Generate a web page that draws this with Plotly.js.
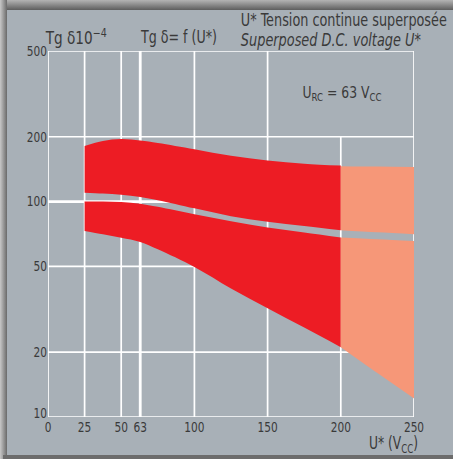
<!DOCTYPE html>
<html>
<head>
<meta charset="utf-8">
<script src="https://cdn.plot.ly/plotly-3.0.1.min.js"></script>
<style>
  html, body { margin: 0; padding: 0; background: #d8d8d8; }
  #wrap { position: absolute; left: 0; top: 0; width: 453px; height: 459px; background: #8c8c8c; overflow: hidden; }
  #topS { position: absolute; left: 0; top: 0; width: 453px; height: 10px; background: linear-gradient(to bottom, #b4b4b4, #5e5e5e); }
  #leftS { position: absolute; left: 0; top: 0; width: 7px; height: 459px; background: linear-gradient(to right, #c8c8c8, #6a6a6a); }
  #botS { position: absolute; left: 3px; top: 455px; width: 450px; height: 4px; background: #6c6c6c; }
  #panel { position: absolute; left: 7px; top: 10px; width: 446px; height: 445px; background: #a8b0b7; }
  #chart { position: absolute; left: 0; top: 0; width: 453px; height: 459px; }
</style>
</head>
<body>
<div id="wrap"><div id="topS"></div><div id="leftS"></div><div id="botS"></div><div id="panel"></div><div id="chart"></div></div>
<script>
// ---- data ----
const xRed = [25, 37.5, 50, 63, 75, 100, 125, 150, 175, 200];
const band1Top = [181, 191, 195, 192, 187, 175, 163, 155, 150, 147];
const band1Bot = [110, 109, 107.5, 105, 101.5, 93, 85.5, 80.5, 77, 73.6];
const band2Top = [100, 100, 99.5, 97.8, 94.5, 87.3, 81, 75.7, 71.8, 68.1];
const band2Bot = [73, 70.5, 68, 65, 60, 49.7, 39.5, 32, 26, 21.1];

const xSalmon = [200, 225, 250];
const band1TopS = [146, 145.3, 144.7];
const band1BotS = [73.6, 72, 70.5];
const band2TopS = [68.1, 66.8, 65.6];
const band2BotS = [21.1, 16, 12.2];

const xTicks = [0, 25, 50, 63, 100, 150, 200, 250];
const xTickText = ['0', '25', '50', '63', '100', '150', '200', '250'];
const yTicks = [10, 20, 50, 100, 200, 500];
const yTickText = ['10', '20', '50', '100', '200', '500'];

// ---- styles ----
const RED = '#ed1c24';
const SALMON = '#f69778';
const TXT = '#3a3a3a';
const FONT = '"DejaVu Sans Condensed", "DejaVu Sans", sans-serif';

function band(x, lo, hi, color) {
  return [
    {x: x, y: lo, type: 'scatter', mode: 'lines', line: {width: 0, shape: 'spline', smoothing: 1}, hoverinfo: 'skip', showlegend: false},
    {x: x, y: hi, type: 'scatter', mode: 'lines', line: {width: 0, shape: 'spline', smoothing: 1}, fill: 'tonexty', fillcolor: color, hoverinfo: 'skip', showlegend: false}
  ];
}

const data = [].concat(
  band(xRed, band1Bot, band1Top, RED),
  band(xSalmon, band1BotS, band1TopS, SALMON),
  band(xRed, band2Bot, band2Top, RED),
  band(xSalmon, band2BotS, band2TopS, SALMON)
);

// grid lines as shapes below the fills
const shapes = [];
xTicks.forEach(v => {
  shapes.push({type: 'line', layer: 'below', xref: 'x', yref: 'y', x0: v, x1: v, y0: 10, y1: (v === 200 ? 200 : 500),
               line: {color: 'white', width: (v === 63 ? 2.8 : 1.7)}});
});
yTicks.forEach(v => {
  shapes.push({type: 'line', layer: 'below', xref: 'x', yref: 'y', x0: 0, x1: 250, y0: v, y1: v,
               line: {color: 'white', width: (v === 100 ? 2.8 : 1.7)}});
});

// annotation specs: center x, center y, target width (px)
const annSpecs = [
  {text: 'Tg δ10<sup>−4</sup>', cx: 75.5, cy: 37, w: 61},
  {text: 'Tg δ= f (U*)', cx: 178, cy: 37, w: 76},
  {text: 'U* Tension continue superposée', cx: 344, cy: 20, w: 206},
  {text: '<i>Superposed D.C. voltage U*</i>', cx: 331, cy: 40, w: 180},
  {text: 'U<sub>RC</sub> = 63 V<sub>CC</sub>', cx: 341.5, cy: 93, w: 79, size: 16},
  {text: 'U* (V<sub>CC</sub>)', cx: 393.5, cy: 444, w: 49}
];
const annotations = annSpecs.map(a => ({
  text: a.text, showarrow: false, xref: 'paper', yref: 'paper',
  x: (a.cx - 48) / 366, y: (417 - a.cy) / 366, xanchor: 'center', yanchor: 'middle',
  font: {family: FONT, size: a.size || 17, color: TXT}
}));

const layout = {
  width: 453, height: 459,
  margin: {l: 48, r: 39, t: 51, b: 42},
  paper_bgcolor: 'rgba(0,0,0,0)',
  plot_bgcolor: 'rgba(0,0,0,0)',
  font: {family: FONT, size: 14, color: TXT},
  showlegend: false,
  xaxis: {range: [0, 250], tickvals: xTicks, ticktext: xTickText, showgrid: false, zeroline: false,
          showline: false, ticks: '', tickfont: {family: FONT, size: 14, color: TXT}, fixedrange: true},
  yaxis: {type: 'log', range: [1, Math.log10(500)], tickvals: yTicks, ticktext: yTickText, showgrid: false,
          zeroline: false, showline: false, ticks: '', tickfont: {family: FONT, size: 14, color: TXT}, fixedrange: true},
  shapes: shapes,
  annotations: annotations
};

Plotly.newPlot('chart', data, layout, {staticPlot: true, displayModeBar: false}).then(gd => {
  // emulate the condensed typeface of the original by narrowing glyphs
  const annTexts = gd.querySelectorAll('.annotation-text');
  annTexts.forEach((t, i) => {
    const spec = annSpecs[i];
    if (!spec) return;
    t.setAttribute('textLength', spec.w);
    t.setAttribute('lengthAdjust', 'spacingAndGlyphs');
  });
  gd.querySelectorAll('.xtick text, .ytick text').forEach(t => {
    const w = t.getComputedTextLength();
    t.setAttribute('textLength', (w * 0.84).toFixed(1));
    t.setAttribute('lengthAdjust', 'spacingAndGlyphs');
    if (t.closest('.ytick') && t.textContent === '10') {
      t.setAttribute('transform', (t.getAttribute('transform') || '') + ' translate(0,-4)');
    }
  });
});
</script>
</body>
</html>
